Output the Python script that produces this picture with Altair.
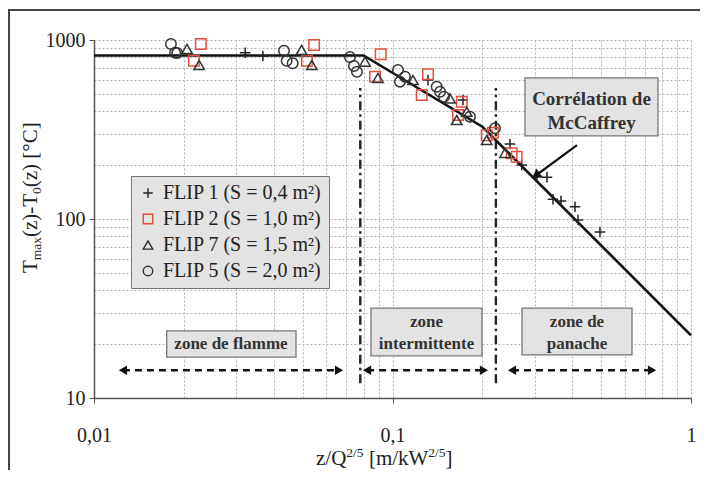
import altair as alt
import pandas as pd

# ---------------- data ----------------
series_names = ["FLIP 1 (S = 0,4 m²)", "FLIP 2 (S = 1,0 m²)",
                "FLIP 7 (S = 1,5 m²)", "FLIP 5 (S = 2,0 m²)"]

flip1_x = [0.0321, 0.0368, 0.1315, 0.1722, 0.2475, 0.2709, 0.3048, 0.3293,
           0.3449, 0.3668, 0.4087, 0.4182, 0.4955]
flip1_y = [849, 815, 598, 462, 262, 200, 173, 171, 129, 126, 117, 98.6, 84.6]

flip2_x = [0.0228, 0.0216, 0.0546, 0.0517, 0.0913, 0.0874, 0.1315, 0.1253,
           0.1657, 0.1706, 0.2068, 0.2171, 0.2508, 0.2606]
flip2_y = [950, 765, 937, 765, 832, 624, 643, 493, 381, 452, 294, 303, 233, 223]

flip7_x = [0.0205, 0.0225, 0.0496, 0.0537, 0.0809, 0.0894, 0.1171, 0.1558,
           0.1641, 0.1773, 0.2068, 0.2382]
flip7_y = [891, 725, 879, 725, 757, 614, 598, 472, 357, 397, 276, 234]

flip5_x = [0.0181, 0.0187, 0.0190, 0.0433, 0.0442, 0.0463, 0.0720, 0.0743,
           0.0760, 0.1043, 0.1059, 0.1101, 0.1406, 0.1443, 0.1488, 0.1818, 0.2205]
flip5_y = [950, 849, 846, 871, 765, 741, 804, 716, 665, 680, 585, 624, 548,
           514, 482, 373, 321]

# McCaffrey correlation (flame / intermittent / plume)
corr_x = [0.01, 0.08, 0.2, 1.0]
corr_y = [820, 820, 328, 22.4]

# zone limits (dash-dot lines)
zone_limits = [0.078, 0.222]
zone_line_y = [12.1, 540]

# axis tick values
x_grid = [0.01, 0.02, 0.03, 0.04, 0.05, 0.06, 0.07, 0.08, 0.09,
          0.1, 0.2, 0.3, 0.4, 0.5, 0.6, 0.7, 0.8, 0.9, 1]
y_grid = [10, 20, 30, 40, 50, 60, 70, 80, 90,
          100, 200, 300, 400, 500, 600, 700, 800, 900, 1000]

# annotation boxes (data coordinates)
box_x1 = [0.01752, 0.0847, 0.2716, 0.2779]
box_x2 = [0.04751, 0.1994, 0.6343, 0.775]
box_y1 = [16.9, 17.2, 17.4, 291]
box_y2 = [23.7, 31.8, 31.8, 614]

zone_text = ["zone de flamme", "zone", "intermittente", "zone de", "panache"]
zone_x = [0.02877, 0.130, 0.130, 0.415, 0.415]
zone_y = [20.0, 26.6, 20.0, 26.6, 20.0]

corr_text = ["Corrélation de", "McCaffrey"]
corr_tx = [0.4642, 0.4642]
corr_ty = [468, 344]

# dashed double arrows
arrow_x1 = [0.0125, 0.0822, 0.2514]
arrow_x2 = [0.0662, 0.2025, 0.7406]
arrow_y = 14.3

# pointer arrow to correlation
ptr_x = [0.415, 0.302]
ptr_y = [259, 175]

# ---------------- chart ----------------
W, H = 597, 358
FONT = "Liberation Serif"
xs = alt.Scale(type="log", domain=[0.01, 1])
ys = alt.Scale(type="log", domain=[10, 1000])

dec_x = "datum.value == 0.01 || datum.value == 0.1 || datum.value == 1"
dec_y = "datum.value == 10 || datum.value == 100 || datum.value == 1000"

x_axis = alt.Axis(values=x_grid, title=None, grid=True, gridColor="#b5b5b5",
                  gridDash=[2, 2], gridWidth=1,
                  labelExpr="datum.value == 0.01 ? '0,01' : datum.value == 0.1 ? '0,1' : datum.value == 1 ? '1' : ''",
                  labelFont=FONT, labelFontSize=20, labelColor="#222",
                  labelPadding=22, labelFlush=False, labelOverlap=False,
                  tickSize=5, tickColor="#555",
                  tickOpacity={"condition": {"test": dec_x, "value": 1}, "value": 0},
                  domainColor="#555", domainWidth=1.5)
y_axis = alt.Axis(values=y_grid, title=None, grid=True, gridColor="#b5b5b5",
                  gridDash=[2, 2], gridWidth=1,
                  labelExpr="datum.value == 10 ? '10' : datum.value == 100 ? '100' : datum.value == 1000 ? '1000' : ''",
                  labelFont=FONT, labelFontSize=20, labelColor="#222",
                  labelPadding=4, labelFlush=False, labelOverlap=False,
                  tickSize=5, tickColor="#555",
                  tickOpacity={"condition": {"test": dec_y, "value": 1}, "value": 0},
                  domainColor="#555", domainWidth=1.5)


def X(field="x", **kw):
    return alt.X(f"{field}:Q", scale=xs, axis=x_axis, **kw)


def Y(field="y", **kw):
    return alt.Y(f"{field}:Q", scale=ys, axis=y_axis, **kw)


rows = []
for name, xv, yv in zip(series_names, [flip1_x, flip2_x, flip7_x, flip5_x],
                        [flip1_y, flip2_y, flip7_y, flip5_y]):
    for a, b in zip(xv, yv):
        rows.append({"x": a, "y": b, "serie": name})
pts = pd.DataFrame(rows)

plus_path = "M-1,0L1,0M0,-1L0,1"
shape_scale = alt.Scale(domain=series_names,
                        range=[plus_path, "square", "triangle-up", "circle"])
color_scale = alt.Scale(domain=series_names,
                        range=["#222222", "#e0503c", "#333333", "#333333"])
legend = alt.Legend(orient="none", legendX=37, legendY=136, title=None,
                    fillColor="#e3e3e3", strokeColor="#777777", padding=7,
                    labelFont=FONT, labelFontSize=20, labelColor="#222",
                    symbolSize=90, symbolStrokeWidth=1.4, rowPadding=6,
                    labelOffset=5, cornerRadius=0, labelLimit=400)

points = alt.Chart(pts).mark_point(filled=False, strokeWidth=1.5, size=110, opacity=1).encode(
    x=X(), y=Y(),
    shape=alt.Shape("serie:N", scale=shape_scale, legend=legend),
    color=alt.Color("serie:N", scale=color_scale, legend=legend),
)

corr = alt.Chart(pd.DataFrame({"x": corr_x, "y": corr_y})).mark_line(
    color="#111", strokeWidth=2.6).encode(x=X(), y=Y(), order="x:Q")

zl = pd.DataFrame({"x": zone_limits, "y": [zone_line_y[0]] * 2, "y2": [zone_line_y[1]] * 2})
zone_lines = alt.Chart(zl).mark_rule(color="#222", strokeWidth=2.4,
                                     strokeDash=[9, 4, 2.5, 4]).encode(
    x=X(), y=Y(), y2="y2:Q")

boxes = alt.Chart(pd.DataFrame({"x": box_x1, "x2": box_x2, "y": box_y1, "y2": box_y2})).mark_rect(
    fill="#e3e3e3", stroke="#777777", strokeWidth=1.3).encode(
    x=X(), x2="x2:Q", y=Y(), y2="y2:Q")

zone_notes = alt.Chart(pd.DataFrame({"x": zone_x, "y": zone_y, "t": zone_text})).mark_text(
    font=FONT, fontSize=17, fontWeight="bold", color="#333", baseline="middle").encode(
    x=X(), y=Y(), text="t:N")

corr_notes = alt.Chart(pd.DataFrame({"x": corr_tx, "y": corr_ty, "t": corr_text})).mark_text(
    font=FONT, fontSize=19, fontWeight="bold", color="#333", baseline="middle").encode(
    x=X(), y=Y(), text="t:N")

ar = pd.DataFrame({"x": arrow_x1, "x2": arrow_x2, "y": [arrow_y] * 3})
arrows = alt.Chart(ar).mark_rule(color="#111", strokeWidth=2.4, strokeDash=[7, 5]).encode(
    x=X(), x2="x2:Q", y=Y())
heads_l = alt.Chart(ar).mark_point(shape="triangle-left", filled=True, color="#111",
                                   size=90, opacity=1).encode(x=X(), y=Y())
heads_r = alt.Chart(ar).mark_point(shape="triangle-right", filled=True, color="#111",
                                   size=90, opacity=1).encode(x=X("x2"), y=Y())

ptr = pd.DataFrame({"x": [ptr_x[0]], "x2": [ptr_x[1]], "y": [ptr_y[0]], "y2": [ptr_y[1]]})
pointer = alt.Chart(ptr).mark_rule(color="#111", strokeWidth=2.2).encode(
    x=X(), x2="x2:Q", y=Y(), y2="y2:Q")
pointer_head = alt.Chart(ptr).mark_point(shape="triangle-up", filled=True, color="#111",
                                         size=110, angle=234.5, opacity=1).encode(
    x=X("x2"), y=Y("y2"))

# axis titles with sub/superscripts (pixel positions relative to plot origin)
xt = pd.DataFrame({"t": ["z/Q", "2/5", "[m/kW", "2/5", "]"],
                   "px": [222, 252.3, 274.9, 334.3, 351.6],
                   "py": [425, 417, 425, 417, 425],
                   "fs": [21, 13.5, 21, 13.5, 21]})
x_title = alt.Chart(xt).mark_text(font=FONT, color="#222", align="left",
                                  baseline="alphabetic").encode(
    x=alt.X("px:Q", scale=None), y=alt.Y("py:Q", scale=None),
    text="t:N", size=alt.Size("fs:Q", scale=None, legend=None))

yt = pd.DataFrame({"t": ["T", "max", "(z)-T", "0", "(z) [°C]"],
                   "px": [-57, -53, -57, -53, -57],
                   "py": [233, 220.2, 197, 153.9, 147.2],
                   "fs": [21, 13.5, 21, 13.5, 21]})
y_title = alt.Chart(yt).mark_text(font=FONT, color="#222", align="left",
                                  baseline="alphabetic", angle=270).encode(
    x=alt.X("px:Q", scale=None), y=alt.Y("py:Q", scale=None),
    text="t:N", size=alt.Size("fs:Q", scale=None, legend=None))

# figure frame (top and left border of the original figure)
frame_top = alt.Chart(pd.DataFrame({"a": [0]})).mark_rule(color="#444", strokeWidth=2).encode(
    x=alt.value(-86), x2=alt.value(606), y=alt.value(-30))
frame_left = alt.Chart(pd.DataFrame({"a": [0]})).mark_rule(color="#444", strokeWidth=2).encode(
    x=alt.value(-85), y=alt.value(-30), y2=alt.value(430))

chart = alt.layer(
    boxes, zone_lines, arrows, heads_l, heads_r, corr, points, zone_notes, corr_notes,
    pointer, pointer_head, x_title, y_title, frame_top, frame_left
).properties(
    width=W, height=H,
    autosize=alt.AutoSizeParams(type="none"),
    padding={"left": 86, "top": 32, "right": 9, "bottom": 72},
    background="white",
).configure_view(strokeWidth=0)

chart.save("out.html", embed_options={"renderer": "svg", "actions": False})
